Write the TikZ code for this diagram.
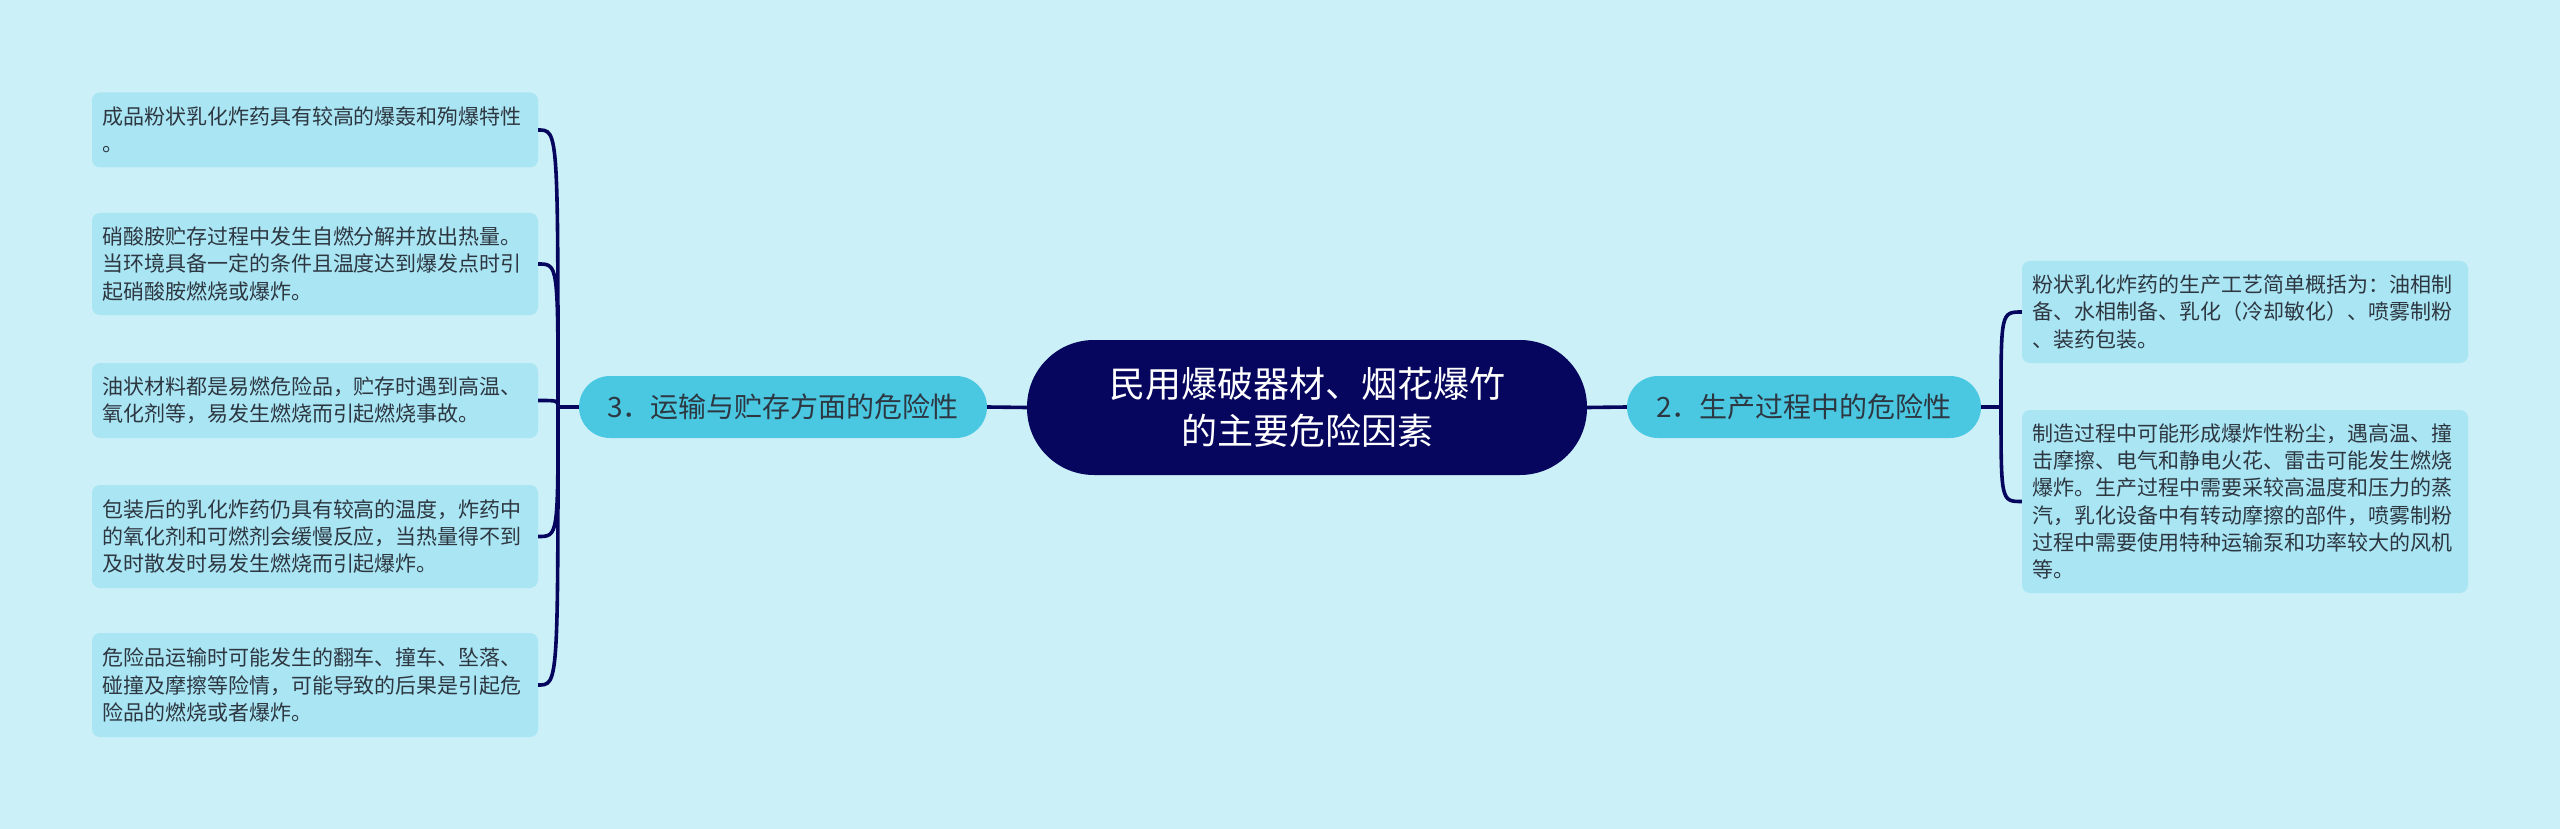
\documentclass[tikz,border=0pt]{standalone}
\usepackage{fontspec}
\setmainfont{Noto Sans CJK SC}
\definecolor{bg}{RGB}{203,240,248}
\definecolor{leaf}{RGB}{170,229,243}
\definecolor{branch}{RGB}{74,200,226}
\definecolor{navy}{RGB}{6,6,94}
\definecolor{txt}{RGB}{45,55,65}
\begin{document}
\begin{tikzpicture}[x=1pt,y=-1pt,
  leafbox/.style={fill=leaf, rounded corners=8pt, text width=426pt, inner xsep=10pt, inner ysep=0pt,
    align=left, font=\fontsize{21}{27.3}\selectfont, text=txt, minimum width=446pt},
  branchbox/.style={fill=branch, rounded corners=31pt, minimum height=62pt, inner xsep=0pt,
    font=\fontsize{28}{34}\selectfont, text=txt},
  link/.style={draw=navy, line width=3.6pt}]
\fill[bg] (0,0) rectangle (2560,829);
\useasboundingbox (0,0) rectangle (2560,829);

\node[fill=navy, rounded corners=67pt, minimum width=560pt, minimum height=135pt, text=white,
  align=center, font=\fontsize{36}{47}\selectfont] (C) at (1307,407.5) {民用爆破器材、烟花爆竹\\的主要危险因素};

\node[branchbox, minimum width=408pt] (LB) at (783,407) {3．运输与贮存方面的危险性};
\node[branchbox, minimum width=354pt] (RB) at (1804,407) {2．生产过程中的危险性};

\node[leafbox, minimum height=75pt] (L1) at (315,130) {成品粉状乳化炸药具有较高的爆轰和殉爆特性\\。};
\node[leafbox, minimum height=102pt] (L2) at (315,264) {硝酸胺贮存过程中发生自燃分解并放出热量。\\当环境具备一定的条件且温度达到爆发点时引\\起硝酸胺燃烧或爆炸。};
\node[leafbox, minimum height=75pt] (L3) at (315,400.5) {油状材料都是易燃危险品，贮存时遇到高温、\\氧化剂等，易发生燃烧而引起燃烧事故。};
\node[leafbox, minimum height=103pt] (L4) at (315,536.5) {包装后的乳化炸药仍具有较高的温度，炸药中\\的氧化剂和可燃剂会缓慢反应，当热量得不到\\及时散发时易发生燃烧而引起爆炸。};
\node[leafbox, minimum height=104pt] (L5) at (315,685) {危险品运输时可能发生的翻车、撞车、坠落、\\碰撞及摩擦等险情，可能导致的后果是引起危\\险品的燃烧或者爆炸。};

\node[leafbox, minimum height=102pt] (R1) at (2245,312) {粉状乳化炸药的生产工艺简单概括为：油相制\\备、水相制备、乳化（冷却敏化）、喷雾制粉\\、装药包装。};
\node[leafbox, minimum height=183pt] (R2) at (2245,501.5) {制造过程中可能形成爆炸性粉尘，遇高温、撞\\击摩擦、电气和静电火花、雷击可能发生燃烧\\爆炸。生产过程中需要采较高温度和压力的蒸\\汽，乳化设备中有转动摩擦的部件，喷雾制粉\\过程中需要使用特种运输泵和功率较大的风机\\等。};

\draw[link] (C.west) -- (LB.east);
\draw[link] (C.east) -- (RB.west);

\coordinate (LJ) at (558,407);
\coordinate (RJ) at (2001,407);
\draw[link] (LB.west) -- (LJ);
\draw[link] (RB.east) -- (RJ);
\foreach \n in {L1,L2,L3,L4,L5}
  \draw[link] (LJ) .. controls (LJ |- \n.east) .. (\n.east);
\foreach \n in {R1,R2}
  \draw[link] (RJ) .. controls (RJ |- \n.west) .. (\n.west);
\end{tikzpicture}
\end{document}
